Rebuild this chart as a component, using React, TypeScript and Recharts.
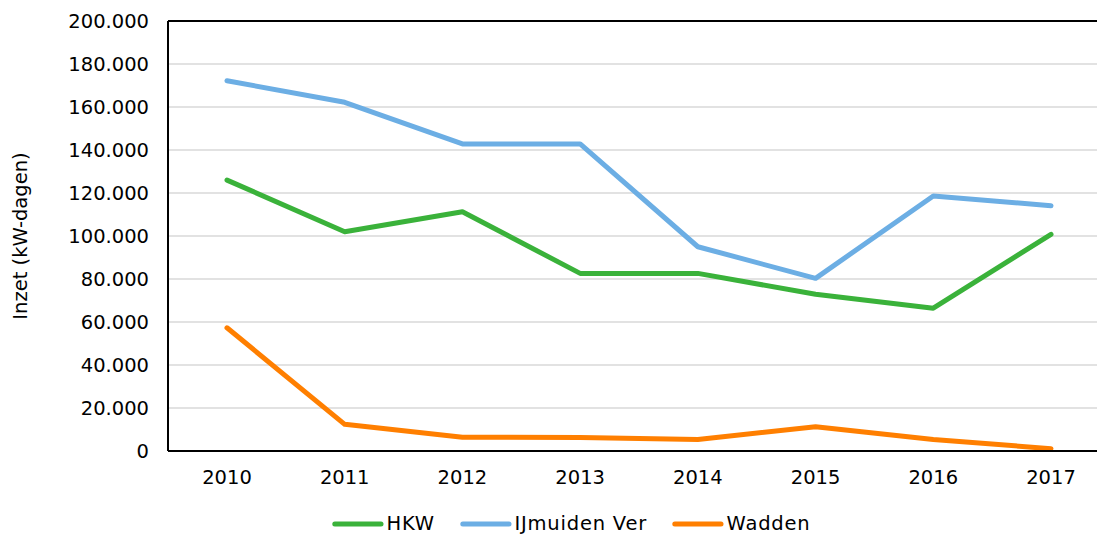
import { LineChart, Line, XAxis, YAxis, CartesianGrid, Legend, ReferenceLine } from 'recharts'

const years = ['2010', '2011', '2012', '2013', '2014', '2015', '2016', '2017']
const hkw = [126000, 102000, 111300, 82600, 82600, 72900, 66400, 100800]
const ijmuiden = [172200, 162200, 142800, 142800, 95000, 80300, 118600, 114100]
const wadden = [57300, 12400, 6400, 6300, 5400, 11300, 5400, 1100]
const yTicks = [0, 20000, 40000, 60000, 80000, 100000, 120000, 140000, 160000, 180000, 200000]

const series = [
  { key: 'hkw', name: 'HKW', color: '#3AB23A' },
  { key: 'ijmuiden', name: 'IJmuiden Ver', color: '#6CAEE4' },
  { key: 'wadden', name: 'Wadden', color: '#FF7F00' },
]

const data = years.map((year, i) => ({ year, hkw: hkw[i], ijmuiden: ijmuiden[i], wadden: wadden[i] }))

const fmt = (v: number) => (v === 0 ? '0' : `${v / 1000}.000`)

const font = 'DejaVu Sans, Verdana, sans-serif'

const renderLegend = () => (
  <div style={{ display: 'flex', alignItems: 'center', fontSize: 19.5, color: '#000', lineHeight: '24px', height: 24, fontFamily: font }}>
    {series.map(s => (
      <div key={s.key} style={{ display: 'flex', alignItems: 'center', marginRight: 23 }}>
        <svg width={56} height={10} style={{ display: 'block' }}>
          <line x1={4.8} y1={5} x2={51} y2={5} stroke={s.color} strokeWidth={5} strokeLinecap="round" />
        </svg>
        <span style={{ marginLeft: 0.5, whiteSpace: 'nowrap', letterSpacing: 0.8 }}>{s.name}</span>
      </div>
    ))}
  </div>
)

const App = () => {
  return (
    <div style={{ position: 'fixed', left: 0, top: 0, width: 1097, height: 534, overflow: 'hidden', fontFamily: font, background: '#fff' }}>
      <LineChart width={1110} height={534} data={data} margin={{ top: 21, right: 0, bottom: 0, left: 0 }}>
        <CartesianGrid vertical={false} stroke="#D9D9D9" strokeWidth={1.5} />
        <XAxis
          dataKey="year"
          height={83}
          padding={{ left: 59, right: 59 }}
          tickLine={false}
          tickSize={0}
          tickMargin={19}
          axisLine={{ stroke: '#000', strokeWidth: 2 }}
          tick={{ fontSize: 19.5, fill: '#000', fontFamily: font }}
        />
        <YAxis
          width={168}
          domain={[0, 200000]}
          ticks={yTicks}
          interval={0}
          tickFormatter={fmt}
          tickLine={false}
          tickSize={0}
          tickMargin={19}
          axisLine={{ stroke: '#000', strokeWidth: 2 }}
          tick={{ fontSize: 19.5, fill: '#000', fontFamily: font }}
          label={{
            content: () => (
              <text x={20} y={236} transform="rotate(-90, 20, 236)" textAnchor="middle" dominantBaseline="central" fontSize={19.5} fill="#000" fontFamily={font}>
                Inzet (kW-dagen)
              </text>
            ),
          }}
        />
        <ReferenceLine y={200000} stroke="#000" strokeWidth={2} />
        {series.map(s => (
          <Line
            key={s.key}
            dataKey={s.key}
            name={s.name}
            type="linear"
            stroke={s.color}
            strokeWidth={5}
            strokeLinecap="round"
            strokeLinejoin="round"
            dot={false}
            activeDot={false}
            isAnimationActive={false}
          />
        ))}
        <Legend verticalAlign="middle" content={renderLegend} wrapperStyle={{ top: 512, left: 330, width: 600, height: 24 }} />
      </LineChart>
    </div>
  )
}

export default App
